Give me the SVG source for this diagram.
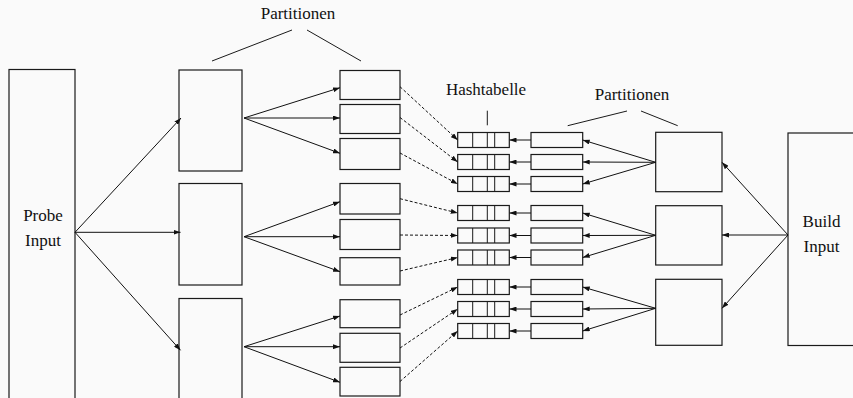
<svg xmlns="http://www.w3.org/2000/svg" width="853" height="398" viewBox="0 0 853 398">
  <style>
    .box { fill: none; stroke: #1a1a1a; stroke-width: 1.2; }
    .thin { fill: none; stroke: #1a1a1a; stroke-width: 1; }
    .edge { fill: none; stroke: #111; stroke-width: 1; marker-end: url(#head); }
    .dash { fill: none; stroke: #111; stroke-width: 1; stroke-dasharray: 3 2; marker-end: url(#head); }
    .lbl { font-family: "Liberation Serif", "Times New Roman", serif; font-size: 17px; fill: #111; text-anchor: middle; }
  </style>
  <defs>
    <marker id="head" markerUnits="userSpaceOnUse" markerWidth="7" markerHeight="5" refX="7" refY="2.5" orient="auto">
      <path d="M0,0 L7,2.5 L0,5 z" fill="#111"/>
    </marker>
    <!-- one hash table row: frame plus three dividers -->
    <g id="hashrow">
      <rect class="box" x="0" y="0" width="51.6" height="15"/>
      <line class="thin" x1="15" y1="0" x2="15" y2="15"/>
      <line class="thin" x1="29.6" y1="0" x2="29.6" y2="15"/>
      <line class="thin" x1="37" y1="0" x2="37" y2="15"/>
    </g>
  </defs>
  <rect x="0" y="0" width="853" height="398" fill="#fafafa"/>

  <!-- probe side -->
  <g id="probe-input">
    <rect class="box" x="9" y="69.5" width="66" height="340"/>
    <text class="lbl" x="43" y="220.5">Probe</text>
    <text class="lbl" x="43" y="246">Input</text>
  </g>

  <g id="probe-part-1"><rect class="box" x="179" y="70" width="63" height="101"/></g>
  <g id="probe-part-2"><rect class="box" x="179" y="183.5" width="63" height="101.5"/></g>
  <g id="probe-part-3"><rect class="box" x="179" y="298.5" width="63" height="110"/></g>

  <g id="probe-sub-1"><rect class="box" x="340" y="70.5" width="60" height="29"/></g>
  <g id="probe-sub-2"><rect class="box" x="340" y="104.5" width="60" height="29"/></g>
  <g id="probe-sub-3"><rect class="box" x="340" y="138.5" width="60" height="31"/></g>
  <g id="probe-sub-4"><rect class="box" x="340" y="183.5" width="60" height="30.5"/></g>
  <g id="probe-sub-5"><rect class="box" x="340" y="219.5" width="60" height="30"/></g>
  <g id="probe-sub-6"><rect class="box" x="340" y="257.7" width="60" height="27.3"/></g>
  <g id="probe-sub-7"><rect class="box" x="340" y="299.7" width="60" height="28"/></g>
  <g id="probe-sub-8"><rect class="box" x="340" y="333.3" width="60" height="29"/></g>
  <g id="probe-sub-9"><rect class="box" x="340" y="367.3" width="60" height="28.7"/></g>

  <g id="label-partitionen-left">
    <text class="lbl" x="298" y="19">Partitionen</text>
    <line class="thin" x1="212" y1="61" x2="292" y2="30"/>
    <line class="thin" x1="307" y1="30" x2="361" y2="61"/>
  </g>

  <!-- hash tables -->
  <g id="hash-1"><use href="#hashrow" x="457.7" y="132.5"/></g>
  <g id="hash-2"><use href="#hashrow" x="457.7" y="154.5"/></g>
  <g id="hash-3"><use href="#hashrow" x="457.7" y="176.5"/></g>
  <g id="hash-4"><use href="#hashrow" x="457.7" y="205.5"/></g>
  <g id="hash-5"><use href="#hashrow" x="457.7" y="228"/></g>
  <g id="hash-6"><use href="#hashrow" x="457.7" y="250"/></g>
  <g id="hash-7"><use href="#hashrow" x="457.7" y="279.5"/></g>
  <g id="hash-8"><use href="#hashrow" x="457.7" y="301.5"/></g>
  <g id="hash-9"><use href="#hashrow" x="457.7" y="323.5"/></g>

  <g id="label-hashtabelle">
    <text class="lbl" x="486" y="95">Hashtabelle</text>
    <line class="thin" x1="487.3" y1="110.7" x2="487.3" y2="125.3"/>
  </g>

  <!-- build side -->
  <g id="build-sub-1"><rect class="box" x="531" y="132.5" width="51.7" height="15"/></g>
  <g id="build-sub-2"><rect class="box" x="531" y="154.5" width="51.7" height="15"/></g>
  <g id="build-sub-3"><rect class="box" x="531" y="176.5" width="51.7" height="15"/></g>
  <g id="build-sub-4"><rect class="box" x="531" y="205.5" width="51.7" height="15"/></g>
  <g id="build-sub-5"><rect class="box" x="531" y="228" width="51.7" height="15"/></g>
  <g id="build-sub-6"><rect class="box" x="531" y="250" width="51.7" height="15"/></g>
  <g id="build-sub-7"><rect class="box" x="531" y="279.5" width="51.7" height="15"/></g>
  <g id="build-sub-8"><rect class="box" x="531" y="301.5" width="51.7" height="15"/></g>
  <g id="build-sub-9"><rect class="box" x="531" y="323.5" width="51.7" height="15"/></g>

  <g id="label-partitionen-right">
    <text class="lbl" x="632" y="100">Partitionen</text>
    <line class="thin" x1="567.7" y1="125.7" x2="627" y2="111"/>
    <line class="thin" x1="641" y1="111" x2="677.7" y2="125.7"/>
  </g>

  <g id="build-part-1"><rect class="box" x="655.7" y="132.3" width="66.3" height="59.4"/></g>
  <g id="build-part-2"><rect class="box" x="655.7" y="205.7" width="66.3" height="59.3"/></g>
  <g id="build-part-3"><rect class="box" x="655.7" y="279.3" width="66.3" height="66"/></g>

  <g id="build-input">
    <rect class="box" x="788" y="133" width="80" height="212.5"/>
    <text class="lbl" x="821.5" y="227">Build</text>
    <text class="lbl" x="821.5" y="252">Input</text>
  </g>

  <g id="connectors">
    <!-- probe input to partitions -->
    <line class="edge" x1="75" y1="232.3" x2="181" y2="118"/>
    <line class="edge" x1="75" y1="232.3" x2="180.5" y2="232.3"/>
    <line class="edge" x1="75" y1="232.3" x2="180.5" y2="350.3"/>
    <!-- partitions to sub-partitions -->
    <line class="edge" x1="244" y1="118" x2="340" y2="87.7"/>
    <line class="edge" x1="244" y1="118" x2="340" y2="118"/>
    <line class="edge" x1="244" y1="118" x2="340" y2="153.3"/>
    <line class="edge" x1="244" y1="236.7" x2="340" y2="201.7"/>
    <line class="edge" x1="244" y1="236.7" x2="340" y2="236.7"/>
    <line class="edge" x1="244" y1="236.7" x2="340" y2="271.7"/>
    <line class="edge" x1="244" y1="346.7" x2="340" y2="316"/>
    <line class="edge" x1="244" y1="346.7" x2="340" y2="346.7"/>
    <line class="edge" x1="244" y1="346.7" x2="340" y2="382.3"/>
    <!-- probe sub-partitions to hash tables -->
    <line class="dash" x1="400" y1="86.7" x2="457.7" y2="140"/>
    <line class="dash" x1="400" y1="117.5" x2="457.7" y2="162"/>
    <line class="dash" x1="400" y1="153" x2="457.7" y2="184"/>
    <line class="dash" x1="400" y1="198.7" x2="457.7" y2="213"/>
    <line class="dash" x1="400" y1="235" x2="457.7" y2="235.5"/>
    <line class="dash" x1="400" y1="271" x2="457.7" y2="257.5"/>
    <line class="dash" x1="400" y1="315" x2="457.7" y2="287"/>
    <line class="dash" x1="400" y1="348" x2="457.7" y2="309"/>
    <line class="dash" x1="400" y1="381.5" x2="457.7" y2="331"/>
    <!-- build sub-partitions to hash tables -->
    <line class="edge" x1="531" y1="140" x2="509.5" y2="140"/>
    <line class="edge" x1="531" y1="162" x2="509.5" y2="162"/>
    <line class="edge" x1="531" y1="184" x2="509.5" y2="184"/>
    <line class="edge" x1="531" y1="213" x2="509.5" y2="213"/>
    <line class="edge" x1="531" y1="235.5" x2="509.5" y2="235.5"/>
    <line class="edge" x1="531" y1="257.5" x2="509.5" y2="257.5"/>
    <line class="edge" x1="531" y1="287" x2="509.5" y2="287"/>
    <line class="edge" x1="531" y1="309" x2="509.5" y2="309"/>
    <line class="edge" x1="531" y1="331" x2="509.5" y2="331"/>
    <!-- build partitions to sub-partitions -->
    <line class="edge" x1="655.7" y1="162.3" x2="582.7" y2="140"/>
    <line class="edge" x1="655.7" y1="162.3" x2="582.7" y2="162"/>
    <line class="edge" x1="655.7" y1="162.3" x2="582.7" y2="184"/>
    <line class="edge" x1="655.7" y1="235.3" x2="582.7" y2="213"/>
    <line class="edge" x1="655.7" y1="235.3" x2="582.7" y2="235.5"/>
    <line class="edge" x1="655.7" y1="235.3" x2="582.7" y2="257.5"/>
    <line class="edge" x1="655.7" y1="308.3" x2="582.7" y2="287"/>
    <line class="edge" x1="655.7" y1="308.3" x2="582.7" y2="309"/>
    <line class="edge" x1="655.7" y1="308.3" x2="582.7" y2="331"/>
    <!-- build input to partitions -->
    <line class="edge" x1="788" y1="235" x2="722" y2="162.3"/>
    <line class="edge" x1="788" y1="235" x2="722" y2="235"/>
    <line class="edge" x1="788" y1="235" x2="722" y2="308.3"/>
  </g>
</svg>
